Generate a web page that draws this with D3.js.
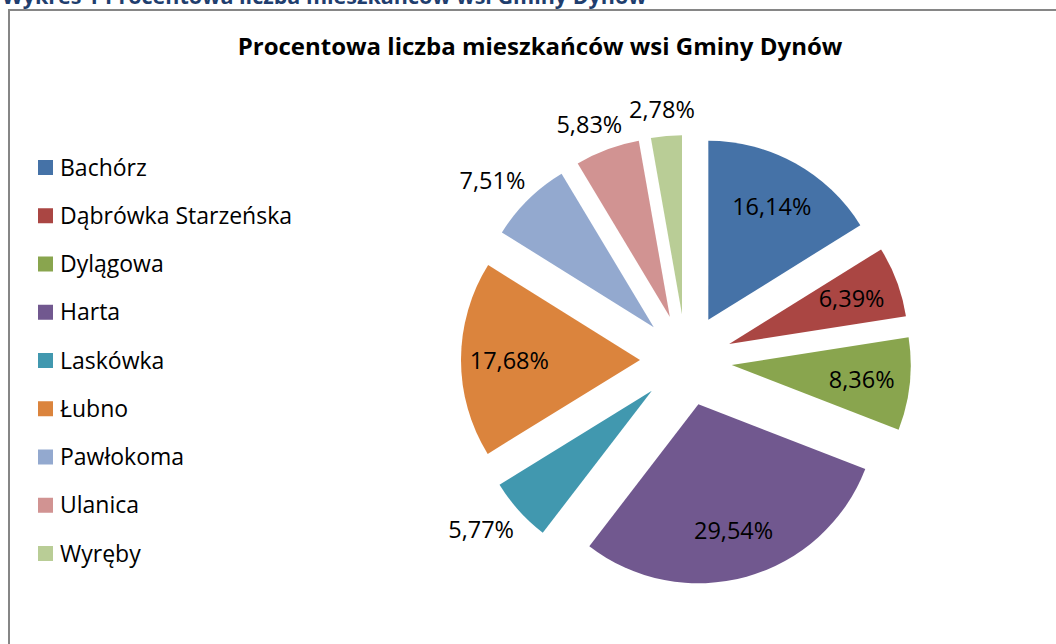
<!DOCTYPE html>
<html>
<meta charset="utf-8">
<script src="https://d3js.org/d3.v7.min.js"></script>
<style>
  body { margin: 0; background: #fff; }
  text { font-family: "Open Sans", sans-serif; }
</style>
<body>
<div id="chart"></div>
<script>
  // villages of Gmina Dynów and their share of inhabitants (%)
  var villages = ["Bachórz", "Dąbrówka Starzeńska", "Dylągowa", "Harta", "Laskówka",
                  "Łubno", "Pawłokoma", "Ulanica", "Wyręby"];
  var shares = [16.14, 6.39, 8.36, 29.54, 5.77, 17.68, 7.51, 5.83, 2.78];
  var shareLabels = ["16,14%", "6,39%", "8,36%", "29,54%", "5,77%", "17,68%", "7,51%", "5,83%", "2,78%"];
  // which labels sit outside of their slice
  var labelOutside = [false, false, false, false, true, false, true, true, true];
  var colors = ["#4572A7", "#AA4643", "#89A54E", "#71588F", "#4198AF",
                "#DB843D", "#93A9CF", "#D19392", "#B9CD96"];

  var width = 1056, height = 644;

  var svg = d3.select("#chart").append("svg")
    .attr("width", width)
    .attr("height", height);

  // caption of the document, cut at the top
  svg.append("text")
    .attr("x", 2)
    .attr("y", 4)
    .style("font-weight", "bold")
    .style("font-size", "21.5px")
    .style("fill", "#1F3E6E")
    .text("Wykres 1 Procentowa liczba mieszkańców wsi Gminy Dynów");

  // chart frame (runs past the right and bottom edge)
  svg.append("rect")
    .attr("x", 9)
    .attr("y", 10)
    .attr("width", width + 20)
    .attr("height", height + 20)
    .style("fill", "none")
    .style("stroke", "#868686")
    .style("stroke-width", 2);

  svg.append("text")
    .attr("x", 540)
    .attr("y", 55)
    .attr("text-anchor", "middle")
    .style("font-weight", "bold")
    .style("font-size", "24px")
    .text("Procentowa liczba mieszkańców wsi Gminy Dynów");

  // legend
  var legend = svg.append("g").attr("transform", "translate(38,160)");
  var row = legend.selectAll("g")
    .data(villages)
    .enter().append("g")
    .attr("transform", function(d, i) { return "translate(0," + (i * 48.25) + ")"; });
  row.append("rect")
    .attr("width", 15)
    .attr("height", 15)
    .style("fill", function(d, i) { return colors[i]; });
  row.append("text")
    .attr("x", 22)
    .attr("y", 15.5)
    .style("font-size", "23px")
    .text(function(d) { return d; });

  // exploded pie
  var cx = 686, cy = 360, r = 179, explode = 46;
  var pie = d3.pie().sort(null).value(function(d) { return d; });
  var arcs = pie(shares);
  var arc = d3.arc().innerRadius(0).outerRadius(r);

  var g = svg.append("g").attr("transform", "translate(" + cx + "," + cy + ")");

  function mid(d) { return (d.startAngle + d.endAngle) / 2; }

  var slices = g.selectAll("g.slice")
    .data(arcs)
    .enter().append("g")
    .attr("class", "slice")
    .attr("transform", function(d) {
      var a = mid(d);
      return "translate(" + (explode * Math.sin(a)) + "," + (-explode * Math.cos(a)) + ")";
    });

  slices.append("path")
    .attr("d", arc)
    .style("fill", function(d, i) { return colors[i]; });

  slices.append("text")
    .attr("text-anchor", "middle")
    .attr("dominant-baseline", "central")
    .style("font-size", "23.5px")
    .attr("x", function(d, i) {
      var a = mid(d);
      if (labelOutside[i]) return (r + 15) * Math.sin(a) + 36 * Math.sin(a);
      return 0.73 * r * Math.sin(a);
    })
    .attr("y", function(d, i) {
      var a = mid(d);
      if (labelOutside[i]) return -(r + 15) * Math.cos(a) - 12 * Math.cos(a);
      return -0.73 * r * Math.cos(a);
    })
    .text(function(d, i) { return shareLabels[i]; });
</script>
</body>
</html>
